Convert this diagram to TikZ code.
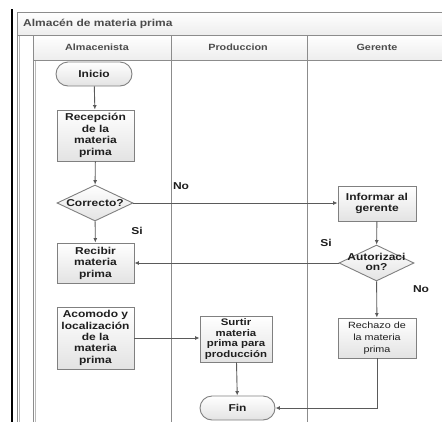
\documentclass[tikz,border=0pt]{standalone}
\usepackage{fontspec}
\newfontfamily\lf{Liberation Sans}[FakeStretch=1.2]
\usetikzlibrary{shapes.geometric,shapes.misc,arrows.meta}
\definecolor{lncol}{HTML}{5A5A5A}
\definecolor{bdcol}{HTML}{808080}
\definecolor{txcol}{HTML}{1E1E1E}
\definecolor{framecol}{HTML}{8C8C8C}
\tikzset{
  base/.style={draw=bdcol, line width=0.9pt, top color=white, bottom color=gray!22,
    text=txcol, font=\lf\bfseries\fontsize{10}{11.5}\selectfont, align=center, inner sep=1pt},
  procbox/.style={base, rectangle},
  termbox/.style={base, rounded rectangle, minimum width=78pt, minimum height=24pt},
  decbox/.style={base, diamond, aspect=2.1, inner sep=0pt, minimum width=76pt, minimum height=36pt},
  conn/.style={draw=lncol, line width=0.9pt, -{Latex[length=4.5pt,width=4pt]}},
  lbl/.style={text=txcol, font=\lf\bfseries\fontsize{10}{11.5}\selectfont, inner sep=0pt},
  hdr/.style={text=txcol!80, font=\lf\bfseries\fontsize{9}{10}\selectfont, inner sep=0pt},
  frameline/.style={draw=framecol, line width=0.9pt}
}
\begin{document}
\begin{tikzpicture}[x=1pt,y=-1pt]
\useasboundingbox (0,0) rectangle (442,421);
\clip (0,0) rectangle (442,421);
\fill[white] (0,0) rectangle (442,421);
% pool and lanes
\shade[top color=white, bottom color=gray!14] (17,12) rectangle (450,35);
\shade[top color=white, bottom color=gray!14] (33,35) rectangle (450,60);
\draw[frameline] (17,12) -- (450,12);
\draw[frameline] (17,12) -- (17,425);
\draw[draw=framecol!60, line width=0.6pt] (19.5,35) -- (19.5,425);
\draw[frameline] (17,35) -- (450,35);
\draw[frameline] (33,35) -- (33,425);
\draw[draw=framecol!60, line width=0.6pt] (35.5,60) -- (35.5,425);
\draw[frameline] (33,60) -- (450,60);
\draw[frameline] (171,35) -- (171,425);
\draw[frameline] (307,35) -- (307,425);
\draw[black, line width=1.2pt] (12,9) -- (12,425);
\node[hdr, anchor=west, font=\lf\bfseries\fontsize{10}{11}\selectfont] (pool) at (23,24) {Almacén de materia prima};
\node[hdr] (h1) at (97,47.5) {Almacenista};
\node[hdr] (h2) at (238,47.5) {Produccion};
\node[hdr] (h3) at (377,47.5) {Gerente};
% nodes
\node[termbox] (ini) at (94,74) {Inicio};
\node[procbox, minimum width=77pt, minimum height=51pt] (rec) at (95.5,135.5) {Recepción\\de la\\materia\\prima};
\node[decbox] (cor) at (95,203) {\makebox[0pt]{Correcto?}};
\node[procbox, minimum width=77pt, minimum height=40pt] (reb) at (95.5,263) {Recibir\\materia\\prima};
\node[procbox, minimum width=77pt, minimum height=62pt, font=\lf\bfseries\fontsize{10}{11.3}\selectfont] (aco) at (95.5,338) {Acomodo y\\localización\\de la\\materia\\prima};
\node[procbox, minimum width=72pt, minimum height=46pt, font=\lf\bfseries\fontsize{9.5}{10.5}\selectfont] (sur) at (236,339) {Surtir\\materia\\prima para\\producción};
\node[termbox, minimum width=77pt] (fin) at (237.5,408) {Fin};
\node[procbox, minimum width=78pt, minimum height=35pt, font=\lf\bfseries\fontsize{10}{11.5}\selectfont] (inf) at (377,203.5) {Informar al\\gerente};
\node[decbox, minimum width=75pt] (aut) at (376.5,263) {\makebox[0pt]{\begin{tabular}{@{}c@{}}Autorizaci\\[-1.5pt]on?\end{tabular}}};
\node[procbox, minimum width=78pt, minimum height=40pt, font=\lf\fontsize{9}{11.7}\selectfont] (rch) at (377,338) {Rechazo de\\la materia\\prima};
% connectors
\draw[conn] (ini) -- (rec);
\draw[conn] (rec) -- (cor);
\draw[conn] (cor) -- (reb);
\draw[conn] (cor.east) -- (inf.west |- cor.east);
\draw[conn] (inf) -- (aut);
\draw[conn] (aut.west) -- (reb.east |- aut.west);
\draw[conn] (aut) -- (rch);
\draw[conn] (aco.east) -- (sur.west |- aco.east);
\draw[conn] (sur) -- (fin);
\draw[conn] (rch.south) |- (fin.east);
% labels
\node[lbl] (lno1) at (181,186) {No};
\node[lbl] (lsi1) at (137,231) {Si};
\node[lbl] (lsi2) at (326,243) {Si};
\node[lbl] (lno2) at (421,289) {No};
\end{tikzpicture}
\end{document}
